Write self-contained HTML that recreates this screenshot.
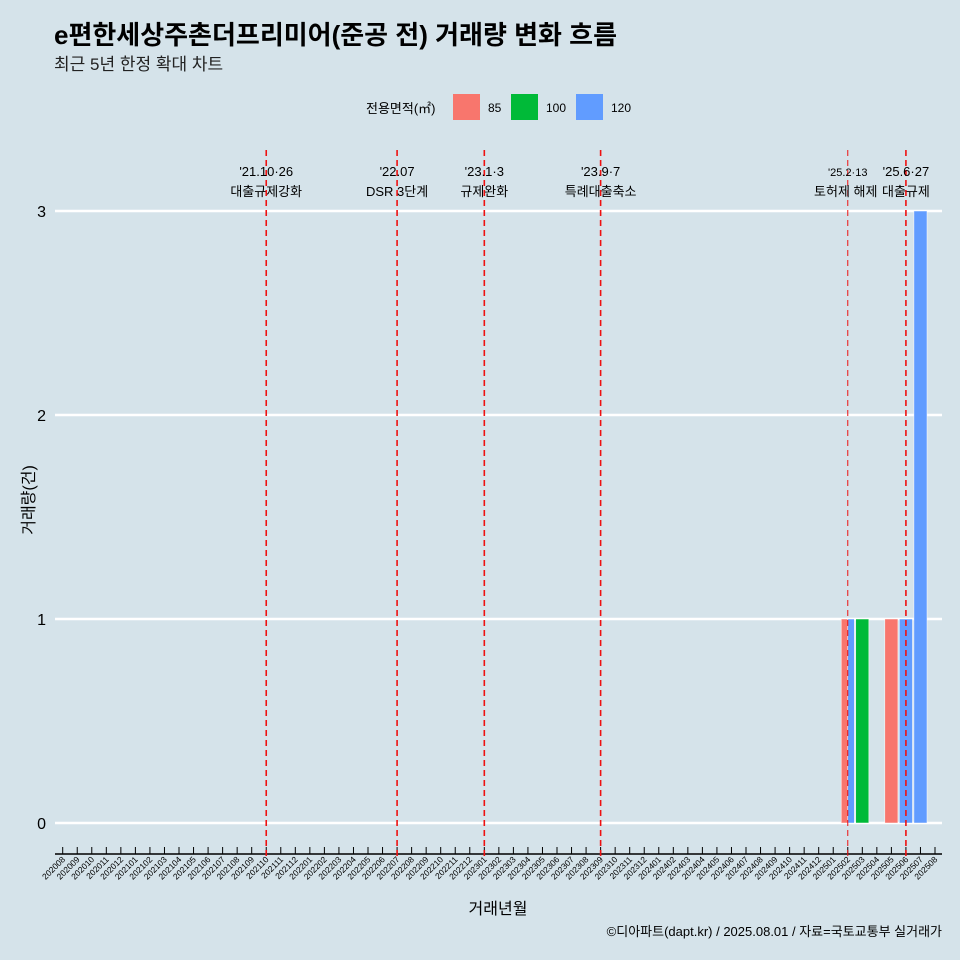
<!DOCTYPE html>
<html><head><meta charset="utf-8"><style>
body{margin:0;background:#d5e3ea;}
svg{display:block;font-family:"Liberation Sans","Noto Sans CJK KR",sans-serif;}
</style></head><body>
<svg id="chart" width="960" height="960" viewBox="0 0 960 960">
<rect width="960" height="960" fill="#d5e3ea"/>
<text x="54" y="44" font-size="26" font-weight="bold" fill="#000">e편한세상주촌더프리미어(준공 전) 거래량 변화 흐름</text>
<text x="54" y="70" font-size="17" fill="#222">최근 5년 한정 확대 차트</text>
<g>
<text x="366" y="113" font-size="13" fill="#000">전용면적(㎡)</text>
<rect x="453" y="94" width="27" height="26" fill="#f8766d"/>
<text x="488" y="112" font-size="12">85</text>
<rect x="511" y="94" width="27" height="26" fill="#00ba38"/>
<text x="546" y="112" font-size="12">100</text>
<rect x="576" y="94" width="27" height="26" fill="#619cff"/>
<text x="611" y="112" font-size="12">120</text>
</g>
<g id="plot"></g>
<text x="498" y="914" font-size="16" text-anchor="middle">거래년월</text>
<text transform="translate(34,500) rotate(-90)" font-size="16" text-anchor="middle">거래량(건)</text>
<text x="942" y="936" font-size="13" text-anchor="end">©디아파트(dapt.kr) / 2025.08.01 / 자료=국토교통부 실거래가</text>
</svg>
<script>
const months = [];
for (let y = 2020; y <= 2025; y++) for (let m = 1; m <= 12; m++) { const k = y * 100 + m; if (k >= 202008 && k <= 202508) months.push(String(k)); }
const barMonths = ['202502','202502','202503','202505','202506','202507'];
const barAreas = ['85','120','100','85','120','120'];
const barCounts = [1,1,1,1,1,3];
const yTicks = [0,1,2,3];
const eventMonths = ['202110','202207','202301','202309','202502','202506'];
const eventDates = ["'21.10·26","'22.07","'23.1·3","'23.9·7","'25.2·13","'25.6·27"];
const eventLabels = ['대출규제강화','DSR 3단계','규제완화','특례대출축소','토허제 해제','대출규제'];
const colors = {'85':'#f8766d','100':'#00ba38','120':'#619cff'};
const NS = 'http://www.w3.org/2000/svg';
const g = document.getElementById('plot');
const step = (935 - 62.7) / 60;
const xs = m => 62.7 + months.indexOf(m) * step;
const ys = v => 823 - v * 204;
function mk(t, a) { const e = document.createElementNS(NS, t); for (const k in a) e.setAttribute(k, a[k]); g.appendChild(e); return e; }
yTicks.forEach(v => {
  const l = mk('line', {x1: 55, x2: 942, y1: ys(v), y2: ys(v), stroke: '#fff', 'stroke-width': 2.5});
  
  
  const t = mk('text', {x: 46, y: ys(v) + 6, 'font-size': 16, 'text-anchor': 'end'});
  t.textContent = v;
  
  
});
const bw = step * 0.9;
const groups = {};
barMonths.forEach((m, i) => { (groups[m] = groups[m] || []).push(i); });
Object.keys(groups).forEach(m => {
  const idx = groups[m]; const w = bw / idx.length;
  idx.forEach((i, j) => {
    const x0 = xs(m) - bw / 2 + j * w;
    const r = mk('rect', {x: x0, y: ys(barCounts[i]), width: w, height: ys(0) - ys(barCounts[i]), fill: colors[barAreas[i]], stroke: '#fff', 'stroke-width': 0.5});
    
    
  });
});
const ax = mk('line', {x1: 55, x2: 942, y1: 854, y2: 854, stroke: '#000', 'stroke-width': 1.5});


months.forEach(m => {
  const x = xs(m);
  const tk = mk('line', {x1: x, x2: x, y1: 847, y2: 854, stroke: '#000', 'stroke-width': 1});
  
  
  const t = mk('text', {x: x + 3, y: 860, 'font-size': 8.5, 'text-anchor': 'end', transform: 'rotate(-45 ' + (x + 3) + ' 860)'});
  t.textContent = m;
  
  
});
eventMonths.forEach((m, i) => {
  const x = xs(m);
  const l = mk('line', {x1: x, x2: x, y1: 150, y2: 856, stroke: '#ee1111', 'stroke-width': i === 4 ? 1 : 1.6, 'stroke-dasharray': '6,4'});
  
  
  const t1 = mk('text', {x: x, y: 176, 'font-size': i === 4 ? 11 : 13, 'text-anchor': 'middle'});
  t1.textContent = eventDates[i];
  
  
  const t2 = mk('text', {x: i === 4 ? x - 2 : x, y: 196, 'font-size': 13, 'text-anchor': 'middle'});
  t2.textContent = eventLabels[i];
  
  
});
</script>
</body></html>
